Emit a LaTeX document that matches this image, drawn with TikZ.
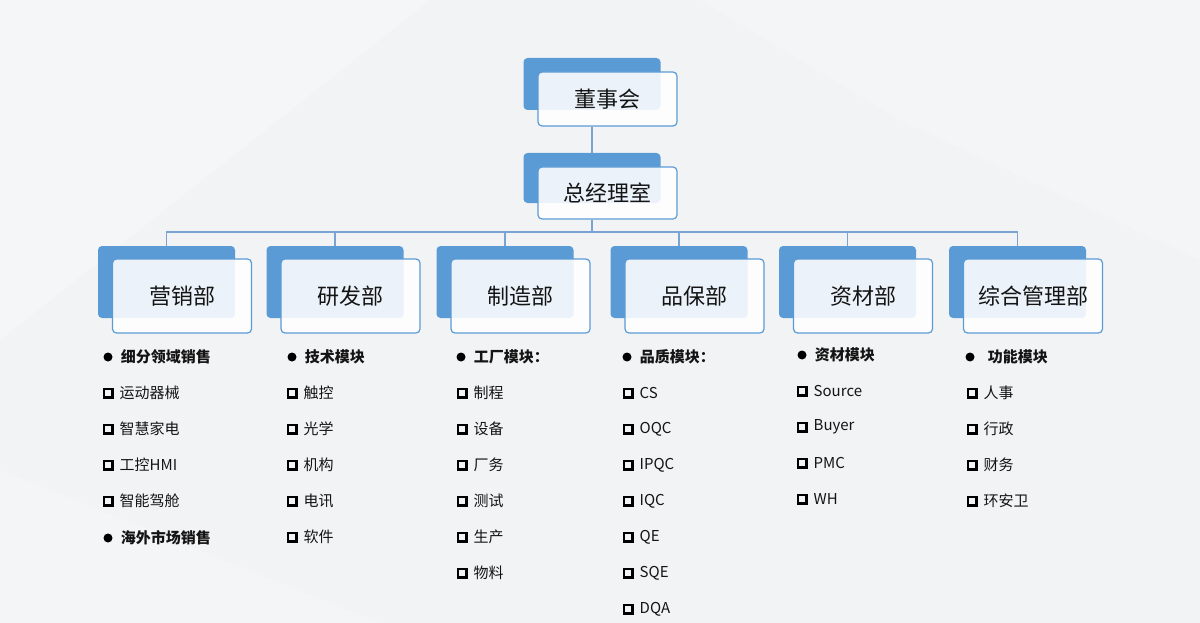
\documentclass[tikz,border=0pt]{standalone}
\usepackage{fontspec}
\setmainfont{Noto Sans CJK SC}
\usetikzlibrary{positioning}
\definecolor{deptblue}{HTML}{5B9BD5}
\definecolor{linkblue}{HTML}{7AA3D4}
\definecolor{bggray}{HTML}{F2F3F5}
\definecolor{inkdark}{HTML}{141414}

\begin{document}
\begin{tikzpicture}[x=1pt, y=-1pt,
  backbox/.style={fill=deptblue, rounded corners=4pt, minimum width=137pt, inner sep=0pt},
  frontbox/.style={draw=deptblue, line width=1.2pt, fill=white, fill opacity=0.88, text opacity=1, rounded corners=4pt, minimum width=139pt, inner sep=0pt, text=inkdark, font=\fontsize{22}{26}\selectfont},
  link/.style={draw=linkblue, line width=1.1pt},
  dot/.style={circle, fill=black, inner sep=0pt, minimum size=9pt},
  sqr/.style={draw=black, line width=2.5pt, inner sep=0pt, minimum size=8.5pt},
  head/.style={inner sep=0pt, font=\fontsize{15}{18}\selectfont\bfseries, text=inkdark},
  item/.style={inner sep=0pt, font=\fontsize{15}{18}\selectfont, text=inkdark}]
% Background
\useasboundingbox (0,0) rectangle (1200,623);
\fill[bggray] (0,0) rectangle (1200,623);
\fill[white, opacity=0.3] (0,0) -- (430,0) -- (0,340) -- cycle;
\fill[white, opacity=0.2] (700,0) -- (1200,0) -- (1200,260) -- (900,120) -- cycle;
\fill[white, opacity=0.2] (0,623) -- (380,623) -- (0,470) -- cycle;

% Board and general manager
\node[backbox, minimum height=52pt] (boardback) at (592,84) {};
\node[frontbox, minimum height=54pt] (board) at (607.5,99) {董事会};
\node[backbox, minimum height=50pt] (gmback) at (592,178) {};
\node[frontbox, minimum height=52pt] (gm) at (607.5,193) {总经理室};

% Departments
\foreach \n/\x/\t in {1/166.5/营销部, 2/335/研发部, 3/505/制造部, 4/679/品保部, 5/847.5/资材部, 6/1017.5/综合管理部} {
    \node[backbox, minimum height=72pt] (back\n) at (\x,282) {};
    \node[frontbox, minimum height=74pt] (dept\n) at (\x+15.5,296) {\t};
}

% Connections
\coordinate (bus) at (592,232);
\draw[link] (boardback.south |- board.south) -- (gmback.north);
\draw[link] (gmback.south |- gm.south) -- (bus);
\foreach \n in {1,...,6} {
    \draw[link] (bus) -| (back\n.north);
}

% Sales
\node[dot] (h11) at (108,357) {};
\node[head, right=8pt of h11] {细分领域销售};
\foreach \t [count=\k] in {运动器械, 智慧家电, 工控HMI, 智能驾舱} {
    \node[sqr] (s1\k) at (108,357+36*\k) {};
    \node[item, right=6pt of s1\k] {\t};
}
\node[dot] (h12) at (108,538) {};
\node[head, right=8pt of h12] {海外市场销售};

% R&D
\node[dot] (h2) at (292,357) {};
\node[head, right=8pt of h2] {技术模块};
\foreach \t [count=\k] in {触控, 光学, 机构, 电讯, 软件} {
    \node[sqr] (s2\k) at (292,357+36*\k) {};
    \node[item, right=6pt of s2\k] {\t};
}

% Manufacturing
\node[dot] (h3) at (461,357) {};
\node[head, right=8pt of h3] {工厂模块：};
\foreach \t [count=\k] in {制程, 设备, 厂务, 测试, 生产, 物料} {
    \node[sqr] (s3\k) at (462,357+36*\k) {};
    \node[item, right=6pt of s3\k] {\t};
}

% Quality
\node[dot] (h4) at (627,357) {};
\node[head, right=8pt of h4] {品质模块：};
\foreach \t [count=\k] in {CS, OQC, IPQC, IQC, QE, SQE, DQA} {
    \node[sqr] (s4\k) at (628,357+36*\k) {};
    \node[item, right=6pt of s4\k] {\t};
}

% Materials
\node[dot] (h5) at (802,355) {};
\node[head, right=8pt of h5] {资材模块};
\foreach \t [count=\k] in {Source, Buyer, PMC, WH} {
    \node[sqr] (s5\k) at (802,355+36*\k) {};
    \node[item, right=6pt of s5\k] {\t};
}

% Administration
\node[dot] (h6) at (970,357) {};
\node[head, right=13pt of h6] {功能模块};
\foreach \t [count=\k] in {人事, 行政, 财务, 环安卫} {
    \node[sqr] (s6\k) at (972,357+36*\k) {};
    \node[item, right=6pt of s6\k] {\t};
}
\end{tikzpicture}
\end{document}
